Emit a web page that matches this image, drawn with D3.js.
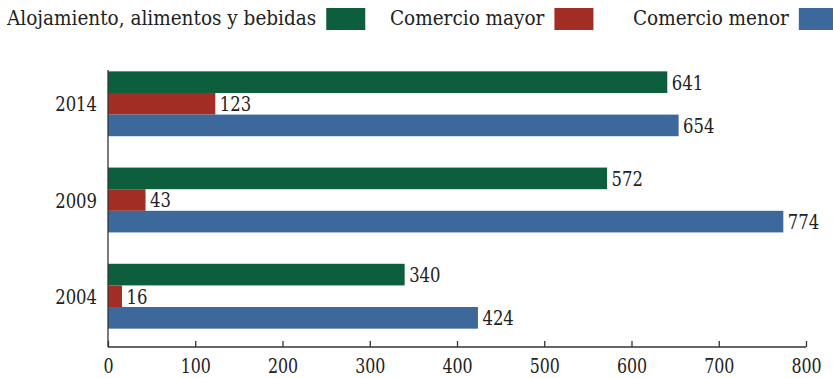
<!DOCTYPE html>
<html>
<head>
<meta charset="utf-8">
<script src="https://cdn.jsdelivr.net/npm/d3@7"></script>
<style>
  body { margin: 0; background: #fff; }
  text { font-family: "DejaVu Serif Condensed", "DejaVu Serif", serif; font-stretch: condensed; fill: #222; }
</style>
</head>
<body>
<div id="chart"></div>
<script>
let width = 833,
  height = 378;

// data
let years = ["2014", "2009", "2004"];
let series = ["Alojamiento, alimentos y bebidas", "Comercio mayor", "Comercio menor"];
let alojamiento = [641, 572, 340];
let comercioMayor = [123, 43, 16];
let comercioMenor = [654, 774, 424];
let xTicks = [0, 100, 200, 300, 400, 500, 600, 700, 800];

let colors = ["#0c5e3c", "#a22e23", "#3c689b"];
let values = [alojamiento, comercioMayor, comercioMenor];

// narrow the digits a bit, the original face is more condensed
function squeeze(sel, k) {
  sel.each(function () {
    let w = this.getComputedTextLength();
    d3.select(this)
      .attr("textLength", w * k)
      .attr("lengthAdjust", "spacingAndGlyphs");
  });
}

let svg = d3.select("#chart").append("svg")
  .attr("width", width)
  .attr("height", height);

let x = d3.scaleLinear()
  .domain([0, 800])
  .range([108, 806]);

let y0 = d3.scaleBand()
  .domain(years)
  .range([55, 345])
  .paddingInner(0.326)
  .paddingOuter(0.17);

let y1 = d3.scaleBand()
  .domain(d3.range(series.length))
  .range([0, y0.bandwidth()]);

// legend
let legendX = [7, 390, 633];
let legend = svg.selectAll(".legend")
  .data(series)
  .enter()
  .append("g")
  .attr("class", "legend")
  .attr("transform", (d, i) => "translate(" + legendX[i] + ",0)");

legend.append("text")
  .attr("x", 0)
  .attr("y", 25)
  .style("font-size", "20.5px")
  .text((d) => d);

legend.each(function (d, i) {
  let g = d3.select(this);
  let w = g.select("text").node().getComputedTextLength();
  g.append("rect")
    .attr("x", w + 10)
    .attr("y", 8)
    .attr("width", 39)
    .attr("height", 22)
    .attr("fill", colors[i]);
});

// bars
let rows = [];
years.forEach((yr, j) => {
  values.forEach((vals, i) => {
    rows.push({ year: yr, s: i, value: vals[j] });
  });
});

let g = svg.append("g");

g.selectAll("rect")
  .data(rows)
  .enter()
  .append("rect")
  .attr("x", x(0))
  .attr("y", (d) => y0(d.year) + y1(d.s))
  .attr("width", (d) => x(d.value) - x(0))
  .attr("height", y1.bandwidth())
  .attr("fill", (d) => colors[d.s]);

g.selectAll(".val")
  .data(rows)
  .enter()
  .append("text")
  .attr("class", "val")
  .attr("x", (d) => x(d.value) + 4.5)
  .attr("y", (d) => y0(d.year) + y1(d.s) + y1.bandwidth() / 2)
  .attr("dy", "0.35em")
  .style("font-size", "21px")
  .text((d) => d.value)
  .call(squeeze, 0.87);

// y axis
svg.append("line")
  .attr("x1", x(0)).attr("x2", x(0))
  .attr("y1", 70).attr("y2", 347)
  .attr("stroke", "#333")
  .attr("stroke-width", 1.3);

svg.selectAll(".ylab")
  .data(years)
  .enter()
  .append("text")
  .attr("class", "ylab")
  .attr("x", x(0) - 11)
  .attr("y", (d) => y0(d) + y0.bandwidth() / 2)
  .attr("dy", "0.36em")
  .attr("text-anchor", "end")
  .style("font-size", "21px")
  .text((d) => d)
  .call(squeeze, 0.87);

// x axis
let xAxis = svg.append("g")
  .attr("transform", "translate(0,347)")
  .call(d3.axisBottom(x).tickValues(xTicks).tickSize(-6).tickPadding(12));

xAxis.select(".domain").attr("stroke", "#333").attr("stroke-width", 1.3)
  .attr("d", "M" + x(0) + ",0H" + x(800));
xAxis.selectAll(".tick line").attr("stroke", "#333").attr("stroke-width", 1.3);
xAxis.selectAll(".tick text")
  .style("font-size", "20px")
  .attr("fill", "#222")
  .call(squeeze, 0.88);
</script>
</body>
</html>
